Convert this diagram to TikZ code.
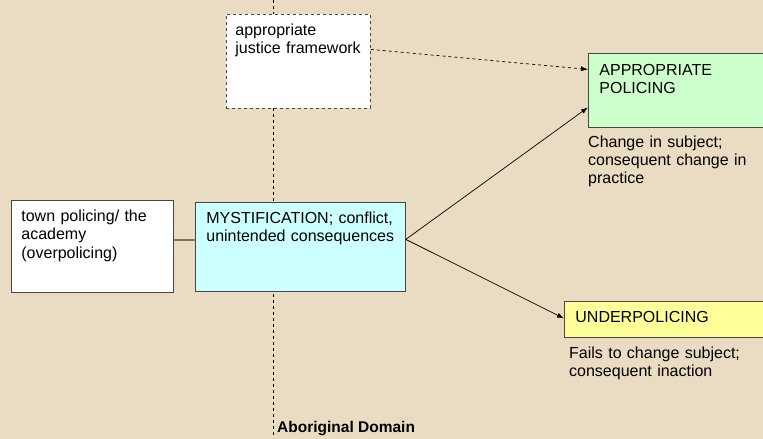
\documentclass[tikz,border=0pt]{standalone}
\usepackage{fontspec}
\setmainfont{Liberation Sans}
\usetikzlibrary{arrows.meta}

\definecolor{paper}{RGB}{234,220,195}
\definecolor{mystfill}{RGB}{204,255,255}
\definecolor{goodfill}{RGB}{204,255,204}
\definecolor{underfill}{RGB}{255,255,153}
\definecolor{edge}{RGB}{70,70,70}
\definecolor{link}{RGB}{128,116,100}

\hyphenpenalty=10000

\begin{document}
\begin{tikzpicture}[x=1pt,y=-1pt,
    font=\fontsize{16}{18.4}\selectfont,
    box/.style={draw=edge,line width=0.8pt,anchor=north west,inner xsep=10pt,
      inner ysep=0pt,align=left,text height=21pt},
    note/.style={anchor=base west,inner sep=0pt,align=left}]
    %% Draw the background
    \clip (0,0) rectangle (763,439);
    \fill[paper] (0,0) rectangle (763,439);
    %% Draw the domain line
    \coordinate (top) at (273,0);
    \coordinate (bottom) at (273,436);
    \draw[dashed,line width=0.6pt] (top) -- (bottom);
    \node[note,font=\fontsize{15.5}{18.4}\selectfont\bfseries] (domain) at (277,432) {Aboriginal Domain};
    %% Draw the nodes
    \node[box,dashed,fill=white,inner xsep=9pt,text width=126pt,text depth=73pt] (justice) at (226,14) {appropriate\\justice framework};
    \node[box,fill=white,text width=142pt,text depth=71pt] (town) at (11,200) {town policing/ the\\academy\\(overpolicing)};
    \node[box,fill=mystfill,inner xsep=11pt,text width=188pt,text depth=68pt] (myst) at (195,202) {MYSTIFICATION; conflict,\\unintended consequences};
    \node[box,fill=goodfill,inner xsep=11pt,text width=180pt,text height=22pt,text depth=52pt] (good) at (588,53) {APPROPRIATE\\POLICING};
    \node[box,fill=underfill,inner xsep=11pt,text width=200pt,text depth=15pt] (under) at (564,301) {UNDERPOLICING};
    %% Draw the notes under the boxes
    \node[note,text width=170pt] (goodnote) at (588,147) {Change in subject;\\consequent change in\\practice};
    \node[note,text width=190pt] (undernote) at (569,358) {Fails to change subject;\\consequent inaction};
    %% Draw the edges
    \draw[link,line width=1.6pt] ([yshift=6.5pt]town.east) -- ([yshift=6.5pt]town.east -| myst.west);
    \begin{scope}[every path/.style={-{Latex[length=7pt,width=5pt]},line width=0.7pt}]
      \draw ([yshift=7.5pt]myst.east) -- ([yshift=-17pt]good.west);
      \draw ([yshift=7.5pt]myst.east) -- ([yshift=1pt]under.west);
      \draw[dashed] ([yshift=12pt]justice.east) -- ([yshift=21pt]good.west);
    \end{scope}
  \end{tikzpicture}
\end{document}
